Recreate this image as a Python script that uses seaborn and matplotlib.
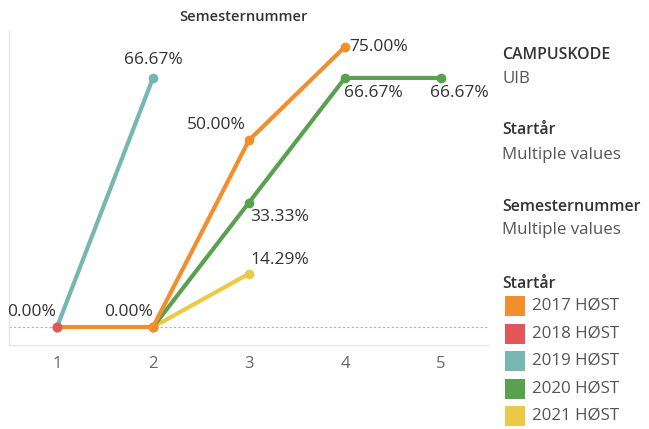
import numpy as np
import pandas as pd
import seaborn as sns
import matplotlib.pyplot as plt
from matplotlib.patches import Rectangle

# data (percent per semester number)
semester = [1, 2, 3, 4, 5]
s2017 = [0.00, 0.00, 50.00, 75.00, np.nan]
s2018 = [0.00, np.nan, np.nan, np.nan, np.nan]
s2019 = [0.00, 66.67, np.nan, np.nan, np.nan]
s2020 = [np.nan, 0.00, 33.33, 66.67, 66.67]
s2021 = [np.nan, 0.00, 14.29, np.nan, np.nan]

legend_labels = ["2017 HØST", "2018 HØST", "2019 HØST", "2020 HØST", "2021 HØST"]
colors = ["#F28E2B", "#E15759", "#76B7B2", "#59A14F", "#EDC948"]

# labelled points: (series, semester, offset in points, ha, va)
labels = [
    ("2018 HØST", 1, (-1, 5), "right", "bottom"),
    ("2017 HØST", 2, (0, 5), "right", "bottom"),
    ("2019 HØST", 2, (0, 7), "center", "bottom"),
    ("2017 HØST", 3, (-2, 5), "right", "bottom"),
    ("2017 HØST", 4, (3, 0), "left", "center"),
    ("2020 HØST", 4, (-1, -5), "left", "top"),
    ("2020 HØST", 5, (-8, -5), "left", "top"),
    ("2020 HØST", 3, (1, -5), "left", "top"),
    ("2021 HØST", 3, (1, 4), "left", "bottom"),
]

series = dict(zip(legend_labels, [s2017, s2018, s2019, s2020, s2021]))
rows = []
for name, vals in series.items():
    for x, v in zip(semester, vals):
        if not np.isnan(v):
            rows.append({"Semesternummer": x, "Andel": v, "Startår": name})
df = pd.DataFrame(rows)

sns.set_style("white")
plt.rcParams["font.family"] = ["Open Sans", "DejaVu Sans"]

fig = plt.figure(figsize=(6.49, 4.29), dpi=100)
ax = fig.add_axes([9 / 649, 1 - 345 / 429, 480 / 649, 315 / 429])

palette = dict(zip(legend_labels, colors))
draw_order = ["2021 HØST", "2020 HØST", "2019 HØST", "2017 HØST", "2018 HØST"]
ax.axhline(0, color="#b0b0b0", lw=0.8, ls=(0, (2, 2)), zorder=0)
sns.lineplot(data=df, x="Semesternummer", y="Andel", hue="Startår",
             hue_order=draw_order, palette=palette, marker="o",
             markersize=7, markeredgewidth=0, linewidth=3,
             legend=False, ax=ax)

for name, x, off, ha, va in labels:
    y = series[name][semester.index(x)]
    ax.annotate(f"{y:.2f}%", (x, y), xytext=off, textcoords="offset points",
                ha=ha, va=va, fontsize=12.5, color="#333333")

ax.set_xlim(0.5, 5.5)
ax.set_ylim(-4.8, 79.5)
ax.set_xticks(semester)
ax.set_xticks([0.5, 1.5, 2.5, 3.5, 4.5, 5.5], minor=True)
ax.set_xticklabels([str(s) for s in semester])
ax.tick_params(axis="x", which="major", length=0, pad=8, labelsize=12,
               labelcolor="#666666")
ax.tick_params(axis="x", which="minor", length=7, color="#e3e3e3", width=1)
ax.set_yticks([])
ax.set_xlabel("")
ax.set_ylabel("")
for side in ["top", "right"]:
    ax.spines[side].set_visible(False)
for side in ["left", "bottom"]:
    ax.spines[side].set_color("#e6e6e6")
    ax.spines[side].set_linewidth(1)

fig.text(243 / 649, 1 - 17 / 429, "Semesternummer", ha="center", va="center",
         fontsize=10.5, fontweight="semibold", color="#333333")

# right-side filter / legend panel
lx = 502 / 649
def fy(py):
    return 1 - py / 429

fs = 12.2
ft = 11.4
fig.text(lx, fy(55), "CAMPUSKODE", fontsize=ft, fontweight="semibold", color="#333333", va="center")
fig.text(lx, fy(79), "UIB", fontsize=fs, color="#555555", va="center")
fig.text(lx, fy(130), "Startår", fontsize=ft, fontweight="semibold", color="#333333", va="center")
fig.text(lx, fy(155), "Multiple values", fontsize=fs, color="#555555", va="center")
fig.text(lx, fy(207), "Semesternummer", fontsize=ft, fontweight="semibold", color="#333333", va="center")
fig.text(lx, fy(230), "Multiple values", fontsize=fs, color="#555555", va="center")
fig.text(lx, fy(284), "Startår", fontsize=ft, fontweight="semibold", color="#333333", va="center")

for i, (lab, col) in enumerate(zip(legend_labels, colors)):
    cy = 306 + i * 27.5
    fig.patches.append(Rectangle((505 / 649, fy(cy + 10)), 20 / 649, 20 / 429,
                                 transform=fig.transFigure, facecolor=col,
                                 edgecolor="none"))
    fig.text(532 / 649, fy(cy), lab, fontsize=fs, color="#555555", va="center")

fig.savefig("out.png", dpi=100)
